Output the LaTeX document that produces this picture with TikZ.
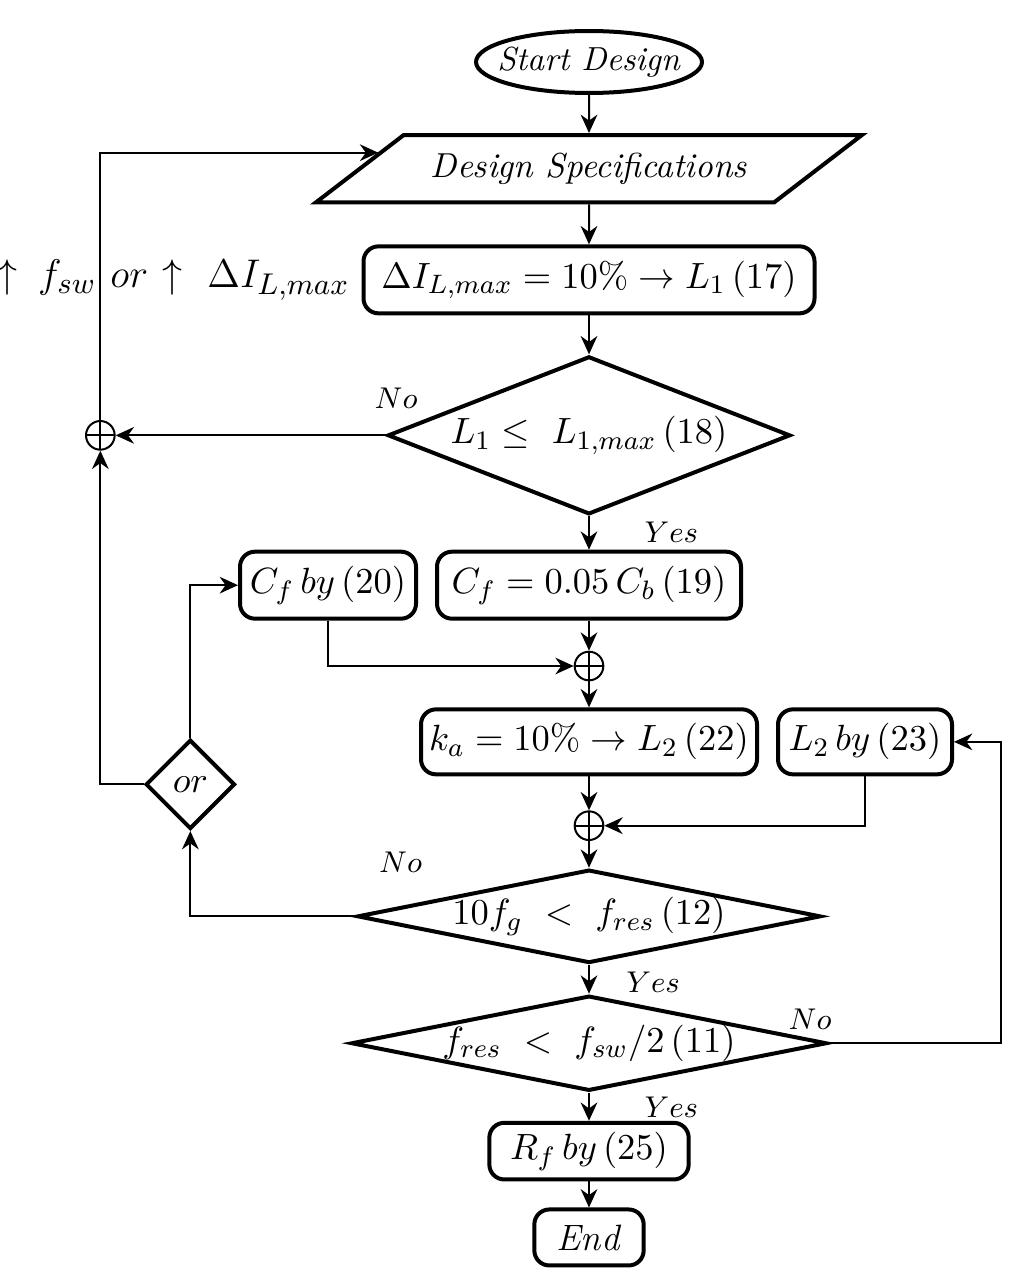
\documentclass[tikz,border=0pt]{standalone}
\usepackage{amsmath,amssymb}
\usepackage{tikz}
\usetikzlibrary{positioning,arrows.meta,calc,shapes.geometric}

\begin{document}
\begin{tikzpicture}[x=0.3pt, y=-0.3pt,
  font=\fontsize{11}{13}\selectfont,
  box/.style={draw, line width=1.2pt, rounded corners=4.5pt, align=center, minimum height=20.1pt, inner sep=1pt},
  term/.style={draw, line width=1.2pt, ellipse, minimum width=67.8pt, minimum height=18.6pt, inner xsep=-8pt, inner ysep=0pt,
               font=\fontsize{10}{12}\selectfont},
  io/.style={draw, line width=1.2pt, trapezium, trapezium left angle=37.5, trapezium right angle=142.5,
             trapezium stretches body, minimum width=163.8pt, text height=7pt, text depth=2pt, inner xsep=0pt, inner ysep=5.6pt,
             font=\fontsize{10.4}{12}\selectfont},
  decide/.style={draw, line width=1.2pt, diamond, aspect=#1, inner sep=0pt},
  decide/.default=1,
  sum/.style={draw, line width=0.6pt, circle, minimum size=8.6pt, inner sep=0pt,
              path picture={\draw[line width=0.6pt] (path picture bounding box.north) -- (path picture bounding box.south)
                            (path picture bounding box.west) -- (path picture bounding box.east);}},
  arrow/.style={-{Stealth[length=5.5pt, width=5pt]}, line width=0.6pt},
  lab/.style={font=\fontsize{9.5}{11}\selectfont, inner sep=0pt}]
\useasboundingbox (0,0) rectangle (1017,1288);
\node[term] (start) at (589,62) {\textit{Start Design}};
\node[io, below=11.4pt of start] (spec) {\textit{Design Specifications}};
\node[box, minimum width=135.3pt, below=12pt of spec] (di) {$\Delta I_{L,max}=10\%\rightarrow L_1\,(17)$};
\node[decide=2.6, minimum width=120.8pt, minimum height=47.4pt, below=11.7pt of di] (lone) {$L_1\leq\ L_{1,max}\,(18)$};
\node[box, minimum width=91.2pt, below=10pt of lone] (cfa) {$C_f=0.05\,C_b\,(19)$};
\node[box, minimum width=52.8pt, left=5.1pt of cfa] (cfb) {$C_f\,by\,(20)$};
\node[sum, below=9pt of cfa] (sumc) {};
\node[box, minimum width=100.8pt, minimum height=19.5pt, below=7.8pt of sumc] (ka) {$k_a=10\%\rightarrow L_2\,(22)$};
\node[box, minimum width=52.2pt, minimum height=19.5pt, right=5.1pt of ka] (ltwo) {$L_2\,by\,(23)$};
\node[sum, below=10.2pt of ka] (sumk) {};
\node[decide=5, minimum width=138.8pt, minimum height=28pt, below=8pt of sumk] (fg) {$10f_g\ <\ f_{res}\,(12)$};
\node[decide=5, minimum width=138.8pt, minimum height=28pt, below=8.6pt of fg] (fres) {$f_{res}\ <\ f_{sw}/2\,(11)$};
\node[box, minimum width=59.8pt, minimum height=17pt, below=8.4pt of fres] (rf) {$R_f\,by\,(25)$};
\node[box, minimum width=32.8pt, minimum height=16.8pt, below=7.8pt of rf] (stop) {\textit{End}};
\node[sum, left=81pt of lone] (suml) {};
\node[decide, minimum size=26.8pt] (orgate) at ($(suml)+(27pt,-104.7pt)$) {$or$};
\node[left=2.4pt of di, inner xsep=1pt, font=\fontsize{13}{15}\selectfont] (incr)
  {${\uparrow}\,\ f_{sw}\ or\ {\uparrow}\;\ \Delta I_{L,max}$};
\draw[arrow] (start) -- (spec);
\draw[arrow] (spec) -- (di);
\draw[arrow] (di) -- (lone);
\draw[arrow] (lone) -- (cfa);
\draw[arrow] (lone.west) -- (suml);
\draw[arrow] (suml.north) |- ([shift={(6.5pt,4.8pt)}]spec.west);
\draw[arrow] (orgate.west) -| (suml.south);
\draw[arrow] (orgate.north) |- (cfb.west);
\draw[arrow] (fg.west) -| (orgate.south);
\draw[arrow] (cfa) -- (sumc);
\draw[arrow] (cfb.south) |- (sumc.west);
\draw[arrow] (sumc) -- (ka);
\draw[arrow] (ka) -- (sumk);
\draw[arrow] (ltwo.south) |- (sumk.east);
\draw[arrow] (sumk) -- (fg);
\draw[arrow] (fg) -- (fres);
\draw[arrow] (fres.east) -- ++(51.6pt,0) |- (ltwo.east);
\draw[arrow] (fres) -- (rf);
\draw[arrow] (rf) -- (stop);
\node[lab, above right=8pt and -3.5pt of lone.west] {$No$};
\node[lab, below right=1.5pt and 16.5pt of lone.south] {$Yes$};
\node[lab, above right=13pt and 7pt of fg.west] {$No$};
\node[lab, below right=2pt and 11pt of fg.south] {$Yes$};
\node[lab, above left=4pt and -1pt of fres.east] {$No$};
\node[lab, below right=1pt and 16.5pt of fres.south] {$Yes$};
\end{tikzpicture}
\end{document}
